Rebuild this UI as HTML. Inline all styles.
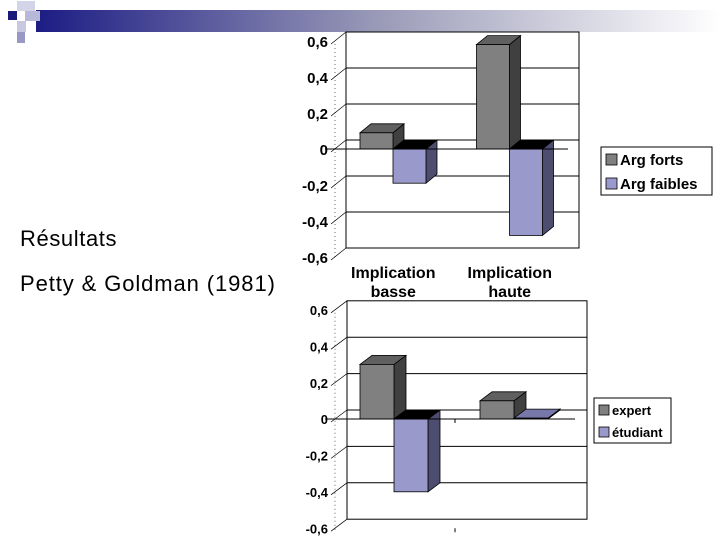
<!DOCTYPE html>
<html><head><meta charset="utf-8"><style>
body{margin:0;width:720px;height:540px;background:#fff;overflow:hidden;font-family:"Liberation Sans",Arial,sans-serif}
svg{position:absolute;left:0;top:0}
</style></head><body>
<svg id="s" width="720" height="540" viewBox="0 0 720 540">
<defs><linearGradient id="hg" x1="0" x2="1"><stop offset="0" stop-color="#1c1c84"/><stop offset="0.5" stop-color="#9a9ab8"/><stop offset="1" stop-color="#ffffff"/></linearGradient></defs>
<rect x="36" y="10" width="684" height="22" fill="url(#hg)"/>
<rect x="8" y="11" width="9" height="9" fill="#1a1a7a"/>
<rect x="17" y="1" width="18" height="10" fill="#d4d4e8"/>
<rect x="25" y="11" width="15" height="10" fill="#b8b8d8"/>
<rect x="17" y="21" width="9" height="11" fill="#c8c8e0"/>
<rect x="17" y="32" width="8" height="11" fill="#9898c4"/>
<text x="20" y="246" font-size="22" letter-spacing="0.6" fill="#000">Résultats</text>
<text x="20" y="291" font-size="22" letter-spacing="0.9" fill="#000">Petty &amp; Goldman (1981)</text>
<g id="c1"></g>
<g id="c2"></g>
</svg>
<script>
const ticks = [0.6,0.4,0.2,0,-0.2,-0.4,-0.6];
const tickLabels = ["0,6","0,4","0,2","0","-0,2","-0,4","-0,6"];
const cats1 = ["Implication basse","Implication haute"];
const forts = [0.09, 0.58];
const faibles = [-0.19, -0.48];
const series1 = ["Arg forts","Arg faibles"];
const expert = [0.30, 0.10];
const etudiant = [-0.40, 0.005];
const series2 = ["expert","étudiant"];
const NS="http://www.w3.org/2000/svg";
function mk(p,t,a){const e=document.createElementNS(NS,t);for(const k in a)e.setAttribute(k,a[k]);p.appendChild(e);return e;}
function draw(g,o){
  const y=v=>o.zeroY - v*o.ppu;
  const dx=o.dx, dy=o.dy;
  const wb=mk(g,'rect',{x:o.x0+dx,y:y(0.6)+dy,width:o.x1-o.x0,height:1.2*o.ppu,fill:'#fff',stroke:'#000','stroke-width':1});
  
  
  ticks.forEach((t,i)=>{
    if(t!==0.6&&t!==-0.6){const l=mk(g,'line',{x1:o.x0+dx,x2:o.x1+dx,y1:y(t)+dy,y2:y(t)+dy,stroke:'#000','stroke-width':1});
    
    }
    const tk=mk(g,'line',{x1:o.x0-4,y1:y(t)+3,x2:o.x0+dx,y2:y(t)+dy,stroke:'#000','stroke-width':0.7});
    
    
    const tx=mk(g,'text',{x:o.x0-7,y:y(t)+o.fs*0.4,'text-anchor':'end','font-size':o.fs,'font-weight':'bold'});
    tx.textContent=tickLabels[i];
    
    
  });
  mk(g,'line',{x1:o.x0,y1:y(0.6)+3,x2:o.x0,y2:y(-0.6)+3,stroke:'#000','stroke-width':0.6,'stroke-dasharray':'1,3'});
  const n=o.cats.length, gw=(o.x1-o.x0)/n;
  o.vals.forEach((vals,si)=>{
    vals.forEach((v,ci)=>{
      const bx=o.x0+ci*gw+o.gap+si*o.bw, top=y(Math.max(v,0)), bot=y(Math.min(v,0));
      const bg=mk(g,'g',{});
      
      
      mk(bg,'polygon',{points:`${bx+o.bw},${top} ${bx+o.bw+dx},${top+dy} ${bx+o.bw+dx},${bot+dy} ${bx+o.bw},${bot}`,fill:o.side[si],stroke:'#000','stroke-width':0.8});
      mk(bg,'polygon',{points:`${bx},${top} ${bx+dx},${top+dy} ${bx+o.bw+dx},${top+dy} ${bx+o.bw},${top}`,fill:v<0?'#000':o.topc[si],stroke:'#000','stroke-width':0.8});
      mk(bg,'rect',{x:bx,y:top,width:o.bw,height:Math.max(bot-top,0.5),fill:o.front[si],stroke:'#000','stroke-width':0.8});
    });
  });
  const ax=mk(g,'line',{x1:o.x0-10,x2:o.x1,y1:o.zeroY,y2:o.zeroY,stroke:'#000','stroke-width':1});
  
  
  if(o.showCats){o.cats.forEach((c,ci)=>{const w=c.split(' ');w.forEach((p,k)=>{
    const t=mk(g,'text',{x:o.x0+ci*gw+gw/2,y:o.catY+k*19,'text-anchor':'middle','font-size':16,'font-weight':'bold'});t.textContent=p;
    
    });});}
  else{mk(g,'line',{x1:o.x0+gw,x2:o.x0+gw,y1:o.zeroY,y2:o.zeroY+4,stroke:'#000'});
       mk(g,'line',{x1:o.x0+gw,x2:o.x0+gw,y1:y(-0.6),y2:y(-0.6)+4,stroke:'#000'});}
  const L=o.leg, lg=mk(g,'g',{});
  
  
  mk(lg,'rect',{x:L.x,y:L.y,width:L.w,height:L.h,fill:'#fff',stroke:'#000'});
  o.sn.forEach((s,i)=>{
    const e=mk(lg,'g',{});
    
    
    mk(e,'rect',{x:L.x+5,y:L.y+L.pad+i*L.step-L.sw,width:L.sw,height:L.sw,fill:o.front[i],stroke:'#000','stroke-width':0.8});
    const t=mk(e,'text',{x:L.x+8+L.sw,y:L.y+L.pad+i*L.step,'font-size':L.fs,'font-weight':'bold'});t.textContent=s;
  });
}
draw(document.getElementById('c1'),{x0:335,x1:568,zeroY:149,ppu:180,dx:11,dy:-9,gap:25,bw:33,cats:cats1,vals:[forts,faibles],sn:series1,
 front:['#808080','#9999cc'],side:['#404040','#4d4d70'],topc:['#606060','#7777aa'],fs:15,showCats:true,catY:278,
 leg:{x:601,y:147,w:111,h:48,pad:18,step:24,sw:11,fs:15}});
draw(document.getElementById('c2'),{x0:335,x1:575,zeroY:419,ppu:182,dx:12,dy:-9,gap:25,bw:34,cats:cats1,vals:[expert,etudiant],sn:series2,
 front:['#808080','#9999cc'],side:['#404040','#4d4d70'],topc:['#606060','#7777aa'],fs:13,showCats:false,
 leg:{x:594,y:398,w:77,h:45,pad:17,step:22,sw:10,fs:13}});
</script>
</body></html>
